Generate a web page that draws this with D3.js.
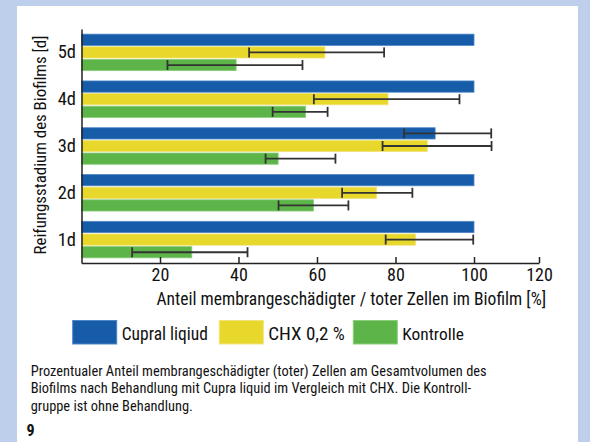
<!DOCTYPE html>
<html><head><meta charset="utf-8">
<script src="https://cdn.jsdelivr.net/npm/d3@7"></script>
<style>
html,body{margin:0;padding:0;background:#bdcfea;}
svg{display:block;}
text{font-family:"Roboto Condensed","Liberation Sans",sans-serif;fill:#111;}
</style></head>
<body>
<svg id="c" width="590" height="442"></svg>
<script>
const categories = ["5d","4d","3d","2d","1d"];
const seriesNames = ["Cupral liqiud","CHX 0,2 %","Kontrolle"];
const seriesColors = ["#165ca8","#e8d82c","#5db54a"];
const seriesStroke = ["#4f86c6","#f0e37a","#8ccc7c"];
// values per category (order of categories)
const cupral = [100, 100, 90.1, 100, 100];
const chx    = [62, 78.1, 88.1, 75.2, 85.1];
const kontr  = [39.4, 57.1, 50.1, 59.1, 28.1];
// error bars low / high (null = none)
const cupralLo = [null, null, 82.2, null, null];
const cupralHi = [null, null, 105.3, null, null];
const chxLo = [42.7, 59.2, 76.7, 66.4, 77.5];
const chxHi = [77.1, 96.3, 105.4, 84.3, 99.8];
const kontrLo = [21.9, 48.7, 46.9, 50.2, 12.9];
const kontrHi = [56.3, 62.7, 64.7, 68.0, 42.3];
const xTicks = [20, 40, 60, 80, 100, 120];
const xTitle = "Anteil membrangeschädigter / toter Zellen im Biofilm [%]";
const yTitle = "Reifungsstadium des Biofilms [d]";
const caption = ["Prozentualer Anteil membrangeschädigter (toter) Zellen am Gesamtvolumen des",
                 "Biofilms nach Behandlung mit Cupra liquid im Vergleich mit CHX. Die Kontroll-",
                 "gruppe ist ohne Behandlung."];
const figNumber = "9";

const vals = [cupral, chx, kontr];
const los = [cupralLo, chxLo, kontrLo];
const his = [cupralHi, chxHi, kontrHi];

const svg = d3.select("#c");
svg.append("rect").attr("x",17).attr("y",6).attr("width",561).attr("height",436).attr("fill","#fff");

// scale font-size of a text so its width matches a target width
function fit(sel, base, target){
  sel.attr("font-size", base);
  const w = sel.node().getComputedTextLength();
  sel.attr("font-size", base*target/w);
  return sel;
}

const x = d3.scaleLinear().domain([0,100,120]).range([81.5,474,539]);
const y = d3.scaleBand().domain(categories).range([29,263]).paddingInner(0.22).paddingOuter(0.11);
const ys = d3.scaleBand().domain([0,1,2]).range([0,y.bandwidth()]).paddingInner(0.11);

const g = svg.append("g");
categories.forEach((c,i)=>{
  vals.forEach((arr,s)=>{
    g.append("rect")
      .attr("x",x(0)).attr("y",y(c)+ys(s))
      .attr("width",x(arr[i])-x(0)).attr("height",ys.bandwidth())
      .attr("fill",seriesColors[s]).attr("stroke",seriesStroke[s]).attr("stroke-width",0.8);
  });
});
// error bars
const cap = 10;
categories.forEach((c,i)=>{
  vals.forEach((arr,s)=>{
    const lo = los[s][i], hi = his[s][i];
    if (lo==null) return;
    const cy = y(c)+ys(s)+ys.bandwidth()/2;
    const eg = g.append("g").attr("stroke","#333").attr("stroke-width",1.8);
    eg.append("line").attr("x1",x(lo)).attr("x2",x(hi)).attr("y1",cy).attr("y2",cy);
    eg.append("line").attr("x1",x(lo)).attr("x2",x(lo)).attr("y1",cy-cap/2).attr("y2",cy+cap/2);
    eg.append("line").attr("x1",x(hi)).attr("x2",x(hi)).attr("y1",cy-cap/2).attr("y2",cy+cap/2);
  });
});

// x axis
const xa = svg.append("g").attr("transform","translate(0,263)")
  .call(d3.axisBottom(x).tickValues(xTicks).tickSizeInner(-6).tickSizeOuter(0).tickPadding(0));
xa.select(".domain").attr("stroke","#222").attr("stroke-width",1.5);
xa.selectAll(".tick line").attr("stroke","#222").attr("stroke-width",1.5);
xa.selectAll("text").attr("font-size",18).attr("fill","#111").attr("font-family","'Liberation Sans',sans-serif")
  .attr("dy",null).attr("y",18.3);

// y axis
const ya = svg.append("g").attr("transform","translate(81.5,0)")
  .call(d3.axisLeft(y).tickSize(0).tickPadding(5.5));
ya.select(".domain").attr("stroke","#222").attr("stroke-width",1.5);
ya.selectAll("text").attr("font-size",18.5).attr("fill","#111").attr("font-family","'Liberation Sans',sans-serif")
  .attr("y", c=>ys(1)+ys.bandwidth()/2 - y.bandwidth()/2);

fit(svg.append("text").attr("x",351.3).attr("y",305).attr("text-anchor","middle").text(xTitle), 16, 390);
fit(svg.append("text").attr("transform","translate(45.7,145) rotate(-90)").attr("text-anchor","middle").text(yTitle), 16, 219);

// legend
const lx = [72.7, 219.3, 353.3];
const lw = [86.3, 76.7, 61.6];
seriesNames.forEach((n,s)=>{
  svg.append("rect").attr("x",lx[s]).attr("y",320.5).attr("width",44).attr("height",23.5)
    .attr("fill",seriesColors[s]).attr("stroke",seriesStroke[s]).attr("stroke-width",1);
  fit(svg.append("text").attr("x",lx[s]+49).attr("y",339.5).text(n), 19, lw[s]);
});

const c0 = svg.append("text").attr("x",30.7).attr("y",376).text(caption[0]);
fit(c0, 14, 456.6);
const capSize = +c0.attr("font-size");
caption.slice(1).forEach((t,i)=>{
  svg.append("text").attr("x",30.7).attr("y",376+(i+1)*17.3).attr("font-size",capSize).text(t);
});
svg.append("text").attr("x",26.5).attr("y",436).attr("font-size",16).attr("font-weight","bold").text(figNumber);
</script>
</body></html>
